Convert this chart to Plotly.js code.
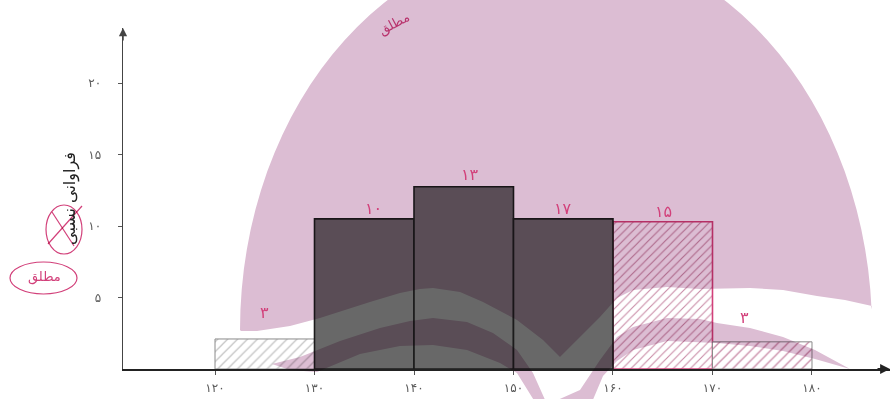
<!DOCTYPE html>
<html>
<head>
<meta charset="utf-8">
<script src="https://cdn.plot.ly/plotly-3.0.1.min.js"></script>
<style>
  html, body { margin: 0; padding: 0; background: #ffffff; }
  #chart { width: 893px; height: 399px; }
  .shapelayer path { mix-blend-mode: multiply; }
</style>
</head>
<body>
<div id="chart"></div>
<script>
// ---- data ----
const binStart   = [120, 130, 140, 150, 160, 170];
const binWidth   = 10;
const frequency  = [2.1, 10.5, 12.75, 10.5, 10.3, 1.9];
const hatched    = [true, false, false, false, true, true];
const handNotes  = ['۳', '۱۰', '۱۳', '۱۷', '۱۵', '۳'];
const xTickVals  = [120, 130, 140, 150, 160, 170, 180];
const xTickText  = ['۱۲۰', '۱۳۰', '۱۴۰', '۱۵۰', '۱۶۰', '۱۷۰', '۱۸۰'];
const yTickVals  = [5, 10, 15, 20];
const yTickText  = ['۵', '۱۰', '۱۵', '۲۰'];
const yTitle     = 'فراوانی نسبی';
const sideNote   = 'مطلق';

// ---- layout geometry ----
const W = 893, H = 399, ML = 123, MR = 3, MT = 28, MB = 30;
const PW = W - ML - MR, PH = H - MT - MB;
const px = x => (x - ML) / PW;
const py = y => (H - MB - y) / PH;
const pink = '#d2407a';
const wash = '#dcbdd3';

const centers = binStart.map(s => s + binWidth / 2);
const idxH = centers.map((c, i) => i).filter(i => hatched[i]);
const idxS = centers.map((c, i) => i).filter(i => !hatched[i]);

const traceHatched = {
  type: 'bar',
  x: idxH.map(i => centers[i]),
  y: idxH.map(i => frequency[i]),
  width: binWidth,
  marker: {
    color: '#ffffff',
    line: { color: idxH.map(i => binStart[i] === 160 ? pink : '#8a8a8a'), width: idxH.map(i => binStart[i] === 160 ? 1.6 : 1) },
    pattern: {
      shape: '/',
      fgcolor: idxH.map(i => binStart[i] === 120 ? '#c4c4c4' : '#c98aa6'),
      bgcolor: '#ffffff',
      size: idxH.map(i => binStart[i] === 160 ? 6 : 7),
      solidity: 0.18,
      fillmode: 'replace'
    }
  },
  hoverinfo: 'skip',
  showlegend: false
};

const traceSolid = {
  type: 'bar',
  x: idxS.map(i => centers[i]),
  y: idxS.map(i => frequency[i]),
  width: binWidth,
  marker: { color: '#686868', line: { color: '#1c1c1c', width: 1.6 } },
  hoverinfo: 'skip',
  showlegend: false
};

// ---- watermark (decoration, drawn with multiply blending) ----
function pathFrom(pts) {
  return 'M ' + pts.map(p => px(p[0]).toFixed(5) + ',' + py(p[1]).toFixed(5)).join(' L ') + ' Z';
}
const domePts = [];
for (let a = 180; a >= 2; a -= 3) {
  const r = a * Math.PI / 180;
  domePts.push([556 + 316 * Math.cos(r), 330 - 390 * Math.sin(r)]);
}
domePts.push([872, 306], [845, 300], [817, 296], [783, 290], [750, 288], [700, 289], [667, 287],
  [633, 290], [617, 298], [600, 317], [577, 340], [560, 357], [543, 340], [517, 320], [483, 302],
  [460, 292], [433, 288], [420, 289], [400, 293], [370, 302], [320, 318], [290, 326], [257, 331], [241, 331]);

const leftWing = [[272, 364], [300, 357], [340, 341], [380, 328], [410, 321], [433, 318], [467, 322], [493, 333],
  [517, 350], [533, 373], [546, 402], [535, 402], [517, 373], [500, 363], [467, 350], [433, 345], [400, 346],
  [360, 354], [317, 372], [290, 370]];
const rightWing = [[553, 402], [580, 390], [600, 360], [617, 337], [633, 327], [667, 318], [700, 319], [717, 323],
  [750, 328], [783, 337], [815, 350], [850, 369], [815, 359], [783, 351], [750, 346], [717, 343], [667, 341],
  [633, 350], [617, 361], [603, 376], [592, 402]];

const shapes = [
  { type: 'path', xref: 'paper', yref: 'paper', path: pathFrom(domePts), fillcolor: wash, line: { width: 0 }, layer: 'above' },
  { type: 'path', xref: 'paper', yref: 'paper', path: pathFrom(leftWing), fillcolor: wash, line: { width: 0 }, layer: 'above' },
  { type: 'path', xref: 'paper', yref: 'paper', path: pathFrom(rightWing), fillcolor: wash, line: { width: 0 }, layer: 'above' },
  // handwritten marks near the axis title
  { type: 'circle', xref: 'paper', yref: 'paper', x0: px(46), x1: px(82), y0: py(254), y1: py(205), line: { color: pink, width: 1.2 }, layer: 'above' },
  { type: 'line', xref: 'paper', yref: 'paper', x0: px(48), x1: px(82), y0: py(244), y1: py(206), line: { color: pink, width: 1.2 }, layer: 'above' },
  { type: 'line', xref: 'paper', yref: 'paper', x0: px(52), x1: px(74), y0: py(212), y1: py(246), line: { color: pink, width: 1.2 }, layer: 'above' },
  { type: 'circle', xref: 'paper', yref: 'paper', x0: px(10), x1: px(77), y0: py(294), y1: py(262), line: { color: pink, width: 1.2 }, layer: 'above' }
];

const noteShiftX = [0, 9, 6, 0, 1, -18];
const noteShiftY = [26, 10, 12, 10, 10, 24];
const annotations = handNotes.map((t, i) => ({
  x: centers[i], y: frequency[i], xref: 'x', yref: 'y', text: t, showarrow: false,
  xshift: noteShiftX[i], yshift: noteShiftY[i], xanchor: 'center', yanchor: 'middle',
  font: { family: 'DejaVu Sans', size: 16, color: pink }
}));
annotations.push(
  { xref: 'paper', yref: 'paper', x: px(44), y: py(277), xanchor: 'center', yanchor: 'middle',
    text: sideNote, showarrow: false, font: { family: 'DejaVu Sans', size: 13, color: pink } },
  { xref: 'paper', yref: 'paper', x: px(394), y: py(24), xanchor: 'center', yanchor: 'middle',
    text: sideNote, showarrow: false, textangle: -28, font: { family: 'DejaVu Sans', size: 13, color: '#b8326c' } },
  // axis arrows
  { xref: 'paper', yref: 'paper', x: 1, y: 0, ax: -14, ay: 0, text: '', showarrow: true,
    arrowhead: 2, arrowsize: 1.1, arrowwidth: 1.8, arrowcolor: '#222222' },
  { xref: 'paper', yref: 'paper', x: 0, y: 1, ax: 0, ay: 14, text: '', showarrow: true,
    arrowhead: 2, arrowsize: 1.1, arrowwidth: 1.5, arrowcolor: '#444444' }
);

const layout = {
  width: W, height: H,
  margin: { l: ML, r: MR, t: MT, b: MB, pad: 0 },
  paper_bgcolor: '#ffffff', plot_bgcolor: 'rgba(0,0,0,0)',
  barmode: 'overlay', bargap: 0,
  showlegend: false,
  font: { family: 'DejaVu Sans', color: '#555555' },
  xaxis: {
    range: [110.754, 187.84], showgrid: false, zeroline: false,
    showline: true, linecolor: '#222222', linewidth: 1.8,
    ticks: 'outside', ticklen: 4, tickwidth: 1, tickcolor: '#555555',
    tickvals: xTickVals, ticktext: xTickText, ticklabelstandoff: 3,
    tickfont: { family: 'DejaVu Sans', size: 12, color: '#5a5a5a' }
  },
  yaxis: {
    range: [0, 23.85], showgrid: false, zeroline: false,
    showline: true, linecolor: '#444444', linewidth: 1.5,
    ticks: 'outside', ticklen: 4, tickwidth: 1, tickcolor: '#555555',
    tickvals: yTickVals, ticktext: yTickText, ticklabelstandoff: 14,
    tickfont: { family: 'DejaVu Sans', size: 12, color: '#5a5a5a' },
    title: { text: yTitle, standoff: 8, font: { family: 'DejaVu Sans', size: 16, color: '#222222' } }
  },
  shapes: shapes,
  annotations: annotations
};

Plotly.newPlot('chart', [traceHatched, traceSolid], layout, { staticPlot: true, displayModeBar: false });
</script>
</body>
</html>
